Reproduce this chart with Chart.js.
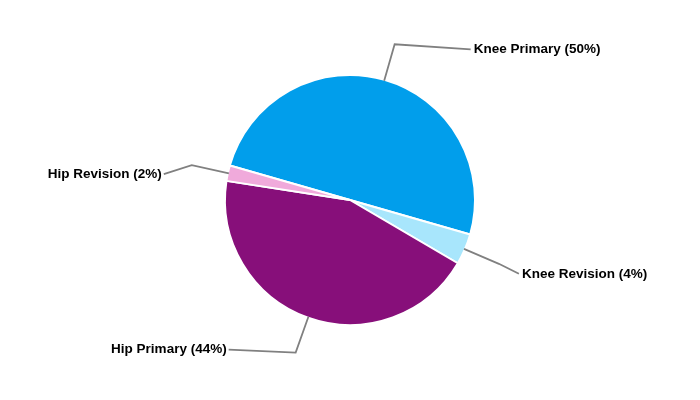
<!DOCTYPE html>
<html>
<head>
<meta charset="utf-8">
<script src="https://cdn.jsdelivr.net/npm/chart.js@4/dist/chart.umd.min.js"></script>
<style>
    html, body { margin: 0; padding: 0; background: #fff; }
    #wrap { width: 700px; height: 400px; }
</style>
</head>
<body>
<div id="wrap"><canvas id="pieChart" width="700" height="400"></canvas></div>
<script>
// chart data
const categories = ['Knee Primary', 'Knee Revision', 'Hip Primary', 'Hip Revision'];
const shares = [50, 4, 44, 2];
const sliceColors = ['#019eeb', '#a8e6fc', '#870f7a', '#f0aadb'];

// leader line tail: horizontal/vertical step after the elbow, per slice
const leaderTail = [[76, 5], [20, 10], [-67, -3], [-28, 9]];

const leaderLabels = {
    id: 'leaderLabels',
    afterDatasetsDraw(chart) {
        const ctx = chart.ctx;
        const arcs = chart.getDatasetMeta(0).data;
        ctx.save();
        ctx.strokeStyle = '#808080';
        ctx.lineWidth = 1.8;
        ctx.font = 'bold 13.5px "Liberation Sans", Arial, sans-serif';
        ctx.fillStyle = '#000';
        ctx.textBaseline = 'middle';
        arcs.forEach((arc, i) => {
            const mid = (arc.startAngle + arc.endAngle) / 2;
            const r0 = arc.outerRadius - 1;
            const r1 = arc.outerRadius + 37;
            const x0 = arc.x + Math.cos(mid) * r0;
            const y0 = arc.y + Math.sin(mid) * r0;
            const x1 = arc.x + Math.cos(mid) * r1;
            const y1 = arc.y + Math.sin(mid) * r1;
            const x2 = x1 + leaderTail[i][0];
            const y2 = y1 + leaderTail[i][1];
            ctx.beginPath();
            ctx.moveTo(x0, y0);
            ctx.lineTo(x1, y1);
            ctx.lineTo(x2, y2);
            ctx.stroke();
            const right = x2 > x1;
            ctx.textAlign = right ? 'left' : 'right';
            ctx.fillText(categories[i] + ' (' + shares[i] + '%)', right ? x2 + 3 : x2 - 2, y2);
        });
        ctx.restore();
    }
};

new Chart(document.getElementById('pieChart'), {
    type: 'pie',
    data: {
        labels: categories,
        datasets: [{
            data: shares,
            backgroundColor: sliceColors,
            borderColor: '#ffffff',
            borderWidth: 2,
            hoverOffset: 0
        }]
    },
    options: {
        responsive: false,
        animation: false,
        rotation: -74,
        layout: { padding: { top: 74, bottom: 74, left: 100, right: 100 } },
        plugins: {
            legend: { display: false },
            tooltip: { enabled: false }
        }
    },
    plugins: [leaderLabels]
});
</script>
</body>
</html>
